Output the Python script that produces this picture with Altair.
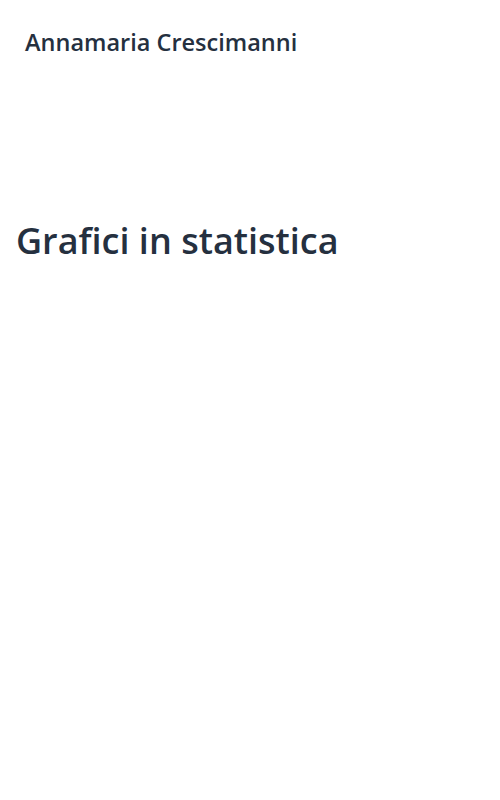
import altair as alt
import pandas as pd

texts = ["Annamaria Crescimanni", "Grafici in statistica"]
roles = ["author", "title"]

df = pd.DataFrame({"text": texts, "role": roles})

base = alt.Chart(df)

author = base.transform_filter(alt.datum.role == "author").mark_text(
    font="Open Sans", fontWeight=600, fontSize=23.5, color="#25303f",
    align="left", baseline="alphabetic"
).encode(text="text:N", x=alt.value(17), y=alt.value(43))

title = base.transform_filter(alt.datum.role == "title").mark_text(
    font="Open Sans", fontWeight=600, fontSize=36, color="#25303f",
    align="left", baseline="alphabetic"
).encode(text="text:N", x=alt.value(8), y=alt.value(246))

chart = alt.layer(author, title).properties(
    width=484, height=784, padding=0
).configure_view(stroke=None)

chart.save("out.html", embed_options={"renderer": "svg", "actions": False})
